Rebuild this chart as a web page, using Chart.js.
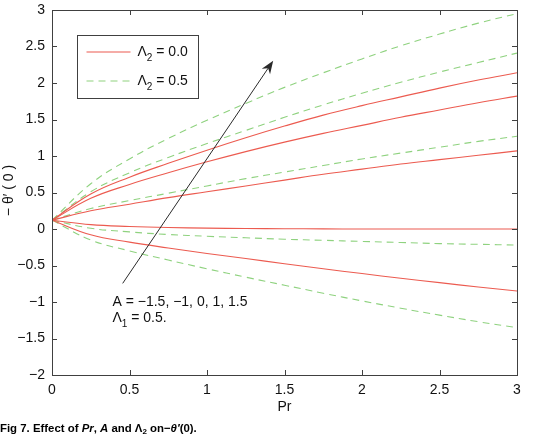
<!DOCTYPE html>
<html lang="en">
<head>
<meta charset="UTF-8">
<title>Fig 7</title>
<script src="https://cdn.jsdelivr.net/npm/chart.js"></script>
<style>
  html, body { margin: 0; padding: 0; background: #fff; }
  #wrap { width: 546px; height: 436px; }
</style>
</head>
<body>
<div id="wrap"><canvas id="grafico" width="546" height="436"></canvas></div>

<script>
// Pr values (x) shared by every curve
var pr = [0, 0.25, 0.5, 0.75, 1, 1.25, 1.5, 1.75, 2, 2.25, 2.5, 2.75, 3];

// -theta'(0), Lambda2 = 0.0 (solid red), one array per A
var redAm15 = [0.12, -0.08, -0.18, -0.26, -0.335, -0.405, -0.475, -0.545, -0.61, -0.675, -0.735, -0.795, -0.85];
var redAm1  = [0.12, 0.06, 0.035, 0.02, 0.012, 0.007, 0.004, 0.002, 0, 0, 0, 0, 0];
var redA0   = [0.12, 0.25, 0.34, 0.43, 0.51, 0.59, 0.67, 0.75, 0.82, 0.89, 0.95, 1.01, 1.07];
var redA1   = [0.12, 0.42, 0.61, 0.77, 0.92, 1.06, 1.19, 1.31, 1.42, 1.53, 1.63, 1.73, 1.82];
var redA15  = [0.12, 0.48, 0.71, 0.90, 1.08, 1.25, 1.41, 1.56, 1.69, 1.81, 1.93, 2.04, 2.14];

// -theta'(0), Lambda2 = 0.5 (dashed green)
var grnAm15 = [0.12, -0.15, -0.30, -0.425, -0.545, -0.66, -0.77, -0.88, -0.985, -1.085, -1.18, -1.27, -1.35];
var grnAm1  = [0.12, 0.01, -0.04, -0.075, -0.10, -0.12, -0.14, -0.155, -0.17, -0.185, -0.20, -0.21, -0.22];
var grnA0   = [0.12, 0.28, 0.39, 0.49, 0.59, 0.69, 0.78, 0.87, 0.96, 1.04, 1.12, 1.20, 1.27];
var grnA1   = [0.12, 0.51, 0.77, 0.98, 1.17, 1.35, 1.53, 1.70, 1.86, 2.01, 2.15, 2.28, 2.41];
var grnA15  = [0.12, 0.62, 0.96, 1.24, 1.49, 1.72, 1.94, 2.14, 2.33, 2.51, 2.67, 2.82, 2.95];

var xTicks = [0, 0.5, 1, 1.5, 2, 2.5, 3];
var yTicks = [-2, -1.5, -1, -0.5, 0, 0.5, 1, 1.5, 2, 2.5, 3];

var legendText = ['= 0.0', '= 0.5'];
var noteLine1 = 'A = \u22121.5, \u22121, 0, 1, 1.5';
var noteLine2 = '= 0.5.';
var notePos = [0.39, -1.0];
var arrowFrom = [0.456, -0.745];
var arrowTo = [1.427, 2.305];

var RED = '#ec5b50';
var GREEN = '#8fd27f';
var FONT = '"Liberation Sans", Arial, Helvetica, sans-serif';

function pontos(ys) {
    var out = [];
    for (var i = 0; i < pr.length; i++) out.push({ x: pr[i], y: ys[i] });
    return out;
}

function serie(ys, cor, tracejado) {
    return {
        data: pontos(ys),
        borderColor: cor,
        borderWidth: 1.1,
        borderDash: tracejado ? [7, 5] : [],
        pointRadius: 0,
        tension: 0.4,
        fill: false
    };
}

function menos(v) {
    return v < 0 ? '\u2212' + Math.abs(v) : String(v);
}

// draw text pieces one after another (for subscripts / mixed fonts)
function textoPartes(ctx, partes, x, y) {
    ctx.textBaseline = 'middle';
    ctx.textAlign = 'left';
    for (var i = 0; i < partes.length; i++) {
        var p = partes[i];
        ctx.font = p.font;
        ctx.fillText(p.t, x, y + (p.dy || 0));
        x += ctx.measureText(p.t).width;
    }
    return x;
}

var extras = {
    id: 'extras',
    afterDraw: function (chart) {
        var ctx = chart.ctx, a = chart.chartArea;
        var sx = chart.scales.x, sy = chart.scales.y;
        ctx.save();

        // box + inward ticks on all four sides
        ctx.strokeStyle = '#404040';
        ctx.lineWidth = 1;
        ctx.setLineDash([]);
        ctx.strokeRect(Math.round(a.left) + 0.5, Math.round(a.top) + 0.5,
            Math.round(a.right - a.left), Math.round(a.bottom - a.top));
        ctx.beginPath();
        xTicks.forEach(function (v) {
            var px = Math.round(sx.getPixelForValue(v)) + 0.5;
            ctx.moveTo(px, a.bottom); ctx.lineTo(px, a.bottom - 5);
            ctx.moveTo(px, a.top); ctx.lineTo(px, a.top + 5);
        });
        yTicks.forEach(function (v) {
            var py = Math.round(sy.getPixelForValue(v)) + 0.5;
            ctx.moveTo(a.left, py); ctx.lineTo(a.left + 5, py);
            ctx.moveTo(a.right, py); ctx.lineTo(a.right - 5, py);
        });
        ctx.stroke();

        // legend
        var lx = Math.round(a.left) + 25.5, ly = Math.round(a.top) + 25.5;
        ctx.fillStyle = '#fff';
        ctx.fillRect(lx, ly, 121, 63);
        ctx.strokeStyle = '#404040';
        ctx.strokeRect(lx, ly, 121, 63);
        var cores = [RED, GREEN], dashes = [[], [7, 5]];
        for (var i = 0; i < 2; i++) {
            var ry = ly + 16.5 + i * 29;
            ctx.strokeStyle = cores[i];
            ctx.lineWidth = 1.1;
            ctx.setLineDash(dashes[i]);
            ctx.beginPath();
            ctx.moveTo(lx + 9, ry); ctx.lineTo(lx + 53, ry);
            ctx.stroke();
            ctx.setLineDash([]);
            ctx.fillStyle = '#111';
            textoPartes(ctx, [
                { t: '\u039b', font: '14px ' + FONT },
                { t: '2', font: '10px ' + FONT, dy: 6 },
                { t: ' ' + legendText[i], font: '14px ' + FONT }
            ], lx + 60, ry);
        }

        // arrow
        var x0 = sx.getPixelForValue(arrowFrom[0]), y0 = sy.getPixelForValue(arrowFrom[1]);
        var x1 = sx.getPixelForValue(arrowTo[0]), y1 = sy.getPixelForValue(arrowTo[1]);
        var ang = Math.atan2(y1 - y0, x1 - x0);
        ctx.strokeStyle = '#2a2a2a';
        ctx.fillStyle = '#2a2a2a';
        ctx.lineWidth = 1;
        ctx.beginPath();
        ctx.moveTo(x0, y0); ctx.lineTo(x1 - 8 * Math.cos(ang), y1 - 8 * Math.sin(ang));
        ctx.stroke();
        ctx.beginPath();
        ctx.moveTo(x1, y1);
        ctx.lineTo(x1 - 13 * Math.cos(ang) + 5 * Math.sin(ang), y1 - 13 * Math.sin(ang) - 5 * Math.cos(ang));
        ctx.lineTo(x1 - 9 * Math.cos(ang), y1 - 9 * Math.sin(ang));
        ctx.lineTo(x1 - 13 * Math.cos(ang) - 5 * Math.sin(ang), y1 - 13 * Math.sin(ang) + 5 * Math.cos(ang));
        ctx.closePath();
        ctx.fill();

        // annotation
        var nx = sx.getPixelForValue(notePos[0]), ny = sy.getPixelForValue(notePos[1]);
        ctx.fillStyle = '#111';
        textoPartes(ctx, [{ t: noteLine1, font: '14px ' + FONT }], nx, ny);
        textoPartes(ctx, [
            { t: '\u039b', font: '14px ' + FONT },
            { t: '1', font: '10px ' + FONT, dy: 6 },
            { t: ' ' + noteLine2, font: '14px ' + FONT }
        ], nx, ny + 16);

        // axis titles
        ctx.font = '14px ' + FONT;
        ctx.textAlign = 'center';
        ctx.textBaseline = 'middle';
        ctx.fillText('Pr', (a.left + a.right) / 2, 407);
        ctx.save();
        ctx.translate(9, (a.top + a.bottom) / 2 - 2);
        ctx.rotate(-Math.PI / 2);
        ctx.fillText('\u2212 \u03b8\u2032 ( 0 )', 0, 0);
        ctx.restore();

        // caption
        var B = 'bold 11.4px ' + FONT, BI = 'italic bold 11.4px ' + FONT;
        ctx.fillStyle = '#000';
        textoPartes(ctx, [
            { t: 'Fig 7. Effect of ', font: B },
            { t: 'Pr', font: BI },
            { t: ', ', font: B },
            { t: 'A', font: BI },
            { t: ' and \u039b', font: B },
            { t: '2', font: 'bold 8px ' + FONT, dy: 3 },
            { t: ' on\u2212', font: B },
            { t: '\u03b8\u2032', font: BI },
            { t: '(0).', font: B }
        ], 0, 429);

        ctx.restore();
    }
};

var ctx = document.getElementById('grafico').getContext('2d');
new Chart(ctx, {
    type: 'line',
    data: {
        datasets: [
            serie(redAm15, RED, false),
            serie(redAm1, RED, false),
            serie(redA0, RED, false),
            serie(redA1, RED, false),
            serie(redA15, RED, false),
            serie(grnAm15, GREEN, true),
            serie(grnAm1, GREEN, true),
            serie(grnA0, GREEN, true),
            serie(grnA1, GREEN, true),
            serie(grnA15, GREEN, true)
        ]
    },
    options: {
        responsive: false,
        animation: false,
        devicePixelRatio: 1,
        layout: { padding: { left: 0, top: 10, right: 29, bottom: 0 } },
        plugins: { legend: { display: false }, tooltip: { enabled: false } },
        scales: {
            x: {
                type: 'linear', min: 0, max: 3,
                afterBuildTicks: function (s) { s.ticks = xTicks.map(function (v) { return { value: v }; }); },
                afterFit: function (s) { s.height = 61; s.paddingLeft = 0; s.paddingRight = 0; },
                grid: { display: false, drawTicks: false },
                border: { display: false },
                ticks: { padding: 7, color: '#111', font: { family: FONT, size: 14 }, callback: menos, maxRotation: 0 }
            },
            y: {
                type: 'linear', min: -2, max: 3,
                afterBuildTicks: function (s) { s.ticks = yTicks.map(function (v) { return { value: v }; }); },
                afterFit: function (s) { s.width = 52; s.paddingTop = 0; s.paddingBottom = 0; },
                grid: { display: false, drawTicks: false },
                border: { display: false },
                ticks: { padding: 7, color: '#111', font: { family: FONT, size: 14 }, callback: menos }
            }
        }
    },
    plugins: [extras]
});
</script>
</body>
</html>
